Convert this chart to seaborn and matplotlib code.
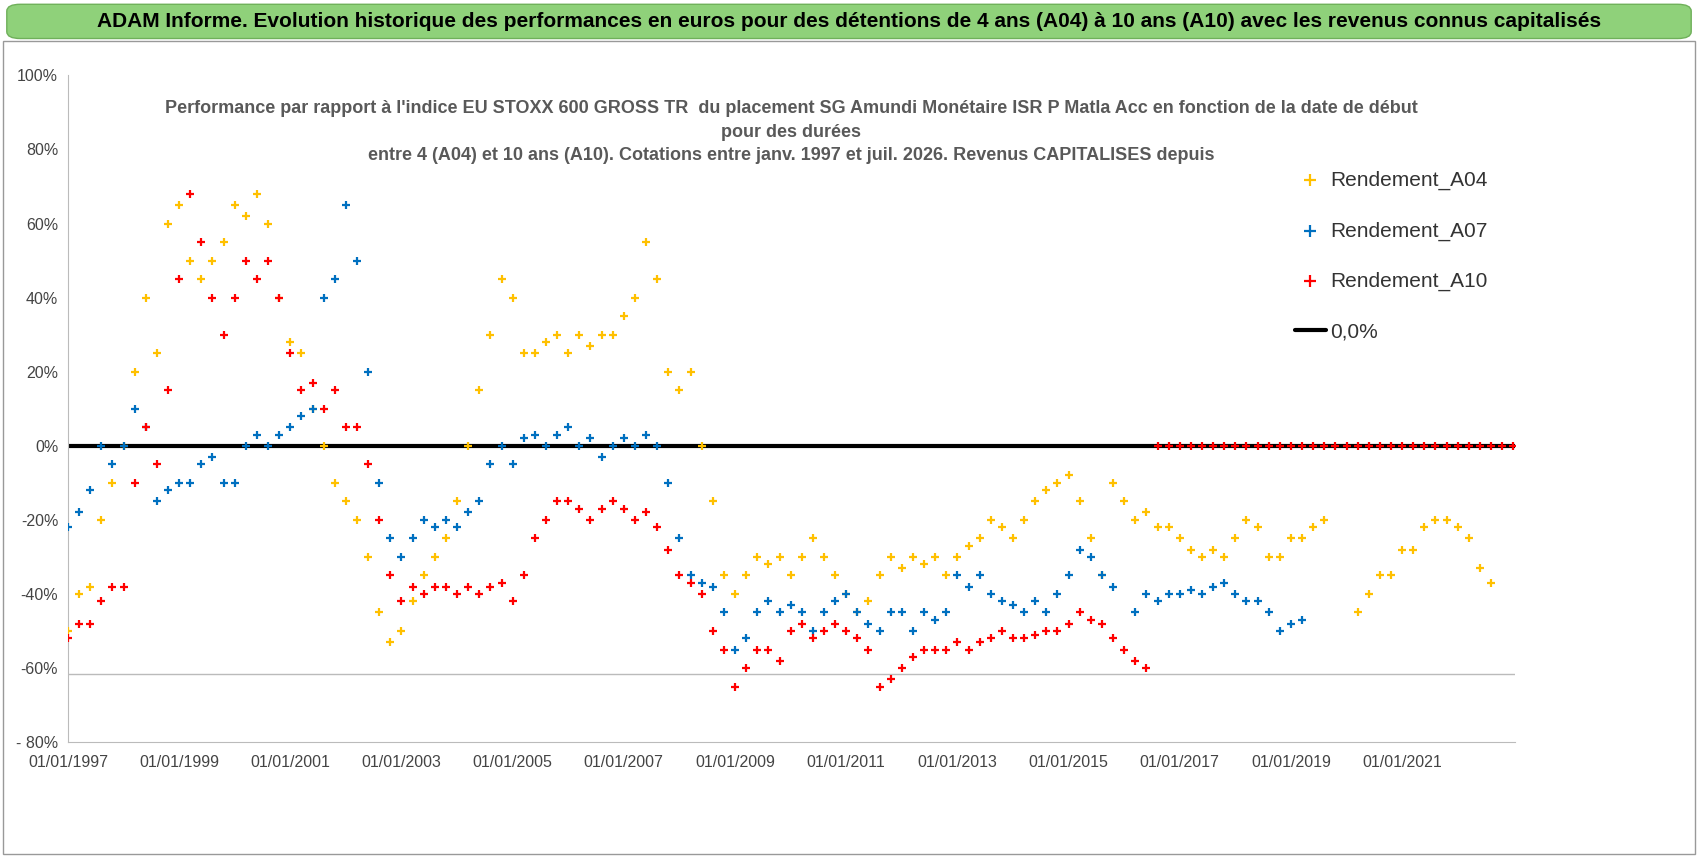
import numpy as np
import pandas as pd
import matplotlib
matplotlib.use("Agg")
import matplotlib.pyplot as plt
from matplotlib.patches import FancyBboxPatch
import seaborn as sns

# values, one every 0.2 year, starting 01/01/1997
a04 = [-50, -40, -38, -20, -10, 0, 20, 40, 25, 60, 65, 50, 45, 50, 55, 65, 62, 68, 60, 40,
       28, 25, 10, 0, -10, -15, -20, -30, -45, -53, -50, -42, -35, -30, -25, -15, 0, 15, 30, 45,
       40, 25, 25, 28, 30, 25, 30, 27, 30, 30, 35, 40, 55, 45, 20, 15, 20, 0, -15, -35,
       -40, -35, -30, -32, -30, -35, -30, -25, -30, -35, -40, -45, -42, -35, -30, -33, -30, -32, -30, -35,
       -30, -27, -25, -20, -22, -25, -20, -15, -12, -10, -8, -15, -25, -35, -10, -15, -20, -18, -22, -22,
       -25, -28, -30, -28, -30, -25, -20, -22, -30, -30, -25, -25, -22, -20, np.nan, np.nan, -45, -40, -35, -35,
       -28, -28, -22, -20, -20, -22, -25, -33, -37]
a07 = [-22, -18, -12, 0, -5, 0, 10, 5, -15, -12, -10, -10, -5, -3, -10, -10, 0, 3, 0, 3,
       5, 8, 10, 40, 45, 65, 50, 20, -10, -25, -30, -25, -20, -22, -20, -22, -18, -15, -5, 0,
       -5, 2, 3, 0, 3, 5, 0, 2, -3, 0, 2, 0, 3, 0, -10, -25, -35, -37, -38, -45,
       -55, -52, -45, -42, -45, -43, -45, -50, -45, -42, -40, -45, -48, -50, -45, -45, -50, -45, -47, -45,
       -35, -38, -35, -40, -42, -43, -45, -42, -45, -40, -35, -28, -30, -35, -38, np.nan, -45, -40, -42, -40,
       -40, -39, -40, -38, -37, -40, -42, -42, -45, -50, -48, -47]
a10 = [-52, -48, -48, -42, -38, -38, -10, 5, -5, 15, 45, 68, 55, 40, 30, 40, 50, 45, 50, 40,
       25, 15, 17, 10, 15, 5, 5, -5, -20, -35, -42, -38, -40, -38, -38, -40, -38, -40, -38, -37,
       -42, -35, -25, -20, -15, -15, -17, -20, -17, -15, -17, -20, -18, -22, -28, -35, -37, -40, -50, -55,
       -65, -60, -55, -55, -58, -50, -48, -52, -50, -48, -50, -52, -55, -65, -63, -60, -57, -55, -55, -55,
       -53, -55, -53, -52, -50, -52, -52, -51, -50, -50, -48, -45, -47, -48, -52, -55, -58, -60]
n_zero = 33  # A10 sits on 0% from mid-2016 to the end of the axis

def to_df(vals, start_idx=0):
    d = pd.Timestamp("1997-01-01") + pd.to_timedelta((np.arange(len(vals)) + start_idx) * 73.05, unit="D")
    return pd.DataFrame({"date": d, "val": np.array(vals, dtype=float) / 100})

df04 = to_df(a04)
df07 = to_df(a07)
df10 = pd.concat([to_df(a10), to_df([0] * n_zero, start_idx=len(a10))])

sns.set_style("white")
plt.rcParams["font.family"] = ["Liberation Sans", "DejaVu Sans"]

fig = plt.figure(figsize=(16.98, 8.56), dpi=100)
fig.patch.set_facecolor("white")
ax = fig.add_axes([0.04, 0.133, 0.852, 0.779])

# banner and chart frame
fig.patches.append(FancyBboxPatch((0.004, 0.955), 0.992, 0.04, boxstyle="round,pad=0,rounding_size=0.008",
                                  transform=fig.transFigure, facecolor="#8fd17a", edgecolor="#6fb05a", lw=1))
fig.patches.append(plt.Rectangle((0.002, 0.002), 0.996, 0.95, transform=fig.transFigure,
                                 facecolor="none", edgecolor="#999999", lw=1))
fig.text(0.5, 0.975, "ADAM Informe. Evolution historique des performances en euros pour des détentions de 4 ans (A04) à 10 ans (A10) avec les revenus connus capitalisés",
         ha="center", va="center", fontsize=15, fontweight="bold", color="black")

ax.axhline(0, color="black", lw=3, zorder=1)
ax.axhline(-0.616, color="#bbbbbb", lw=1, zorder=0)
kw = dict(marker="+", s=40, linewidth=1.6, ax=ax, zorder=3)
sns.scatterplot(data=df04, x="date", y="val", color="#ffc000", label="Rendement_A04", **kw)
sns.scatterplot(data=df07, x="date", y="val", color="#0070c0", label="Rendement_A07", **kw)
sns.scatterplot(data=df10, x="date", y="val", color="#ff0000", label="Rendement_A10", **kw)
ax.plot([], [], color="black", lw=3, label="0,0%")

ax.set_xlim(pd.Timestamp("1997-01-01"), pd.Timestamp("2023-01-10"))
ax.set_ylim(-0.8, 1.0)
ax.set_xticks([pd.Timestamp(f"{y}-01-01") for y in range(1997, 2022, 2)])
ax.set_xticklabels([f"01/01/{y}" for y in range(1997, 2022, 2)], fontsize=11.5, color="#444444")
ax.set_yticks(np.arange(-0.8, 1.01, 0.2))
ax.set_yticklabels(["- 80%", "-60%", "-40%", "-20%", "0%", "20%", "40%", "60%", "80%", "100%"],
                   fontsize=11.5, color="#444444")
ax.set_xlabel("")
ax.set_ylabel("")
for s in ["top", "right"]:
    ax.spines[s].set_visible(False)
ax.spines["left"].set_color("#bbbbbb")
ax.spines["bottom"].set_color("#bbbbbb")
ax.tick_params(axis="x", pad=6)

ax.set_title("Performance par rapport à l'indice EU STOXX 600 GROSS TR  du placement SG Amundi Monétaire ISR P Matla Acc en fonction de la date de début\npour des durées\nentre 4 (A04) et 10 ans (A10). Cotations entre janv. 1997 et juil. 2026. Revenus CAPITALISES depuis",
             fontsize=13, fontweight="bold", color="#595959", y=0.86, linespacing=1.5)

leg = ax.legend(loc="upper left", bbox_to_anchor=(0.835, 0.885), frameon=True, facecolor="white",
                edgecolor="white", framealpha=1, fontsize=15,
                labelspacing=1.5, handletextpad=0.2, markerscale=1.3, handlelength=1.5)
leg.set_zorder(5)
for t in leg.get_texts():
    t.set_color("#333333")

fig.savefig("out.png", dpi=100)
